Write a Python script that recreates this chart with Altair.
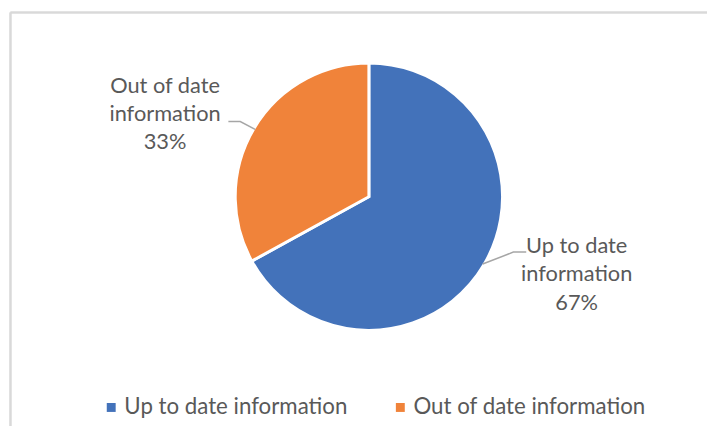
import math
import altair as alt
import pandas as pd

# ---- data ----
categories = ["Up to date information", "Out of date information"]
values = [67, 33]
label_lines = [["Up to date", "information"], ["Out of date", "information"]]

# ---- style / layout ----
colors = ["#4372BA", "#F0833A"]
W, H = 706, 420
CX, CY = 364.5, 188.5
R = 135
R_EDGE = 133.5
FONT = "Lato"
FS = 22
LEGEND_FS = 22.5
TEXT_COLOR = "#595959"
LEADER_COLOR = "#A6A6A6"
FRAME_COLOR = "#D9D9D9"

leader_offsets = {
    "Up to date information": [(31, -12), (44, -12)],
    "Out of date information": [(-15, -8), (-27, -8)],
}
label_offsets = {
    "Up to date information": (95, -11),
    "Out of date information": (-91, -37),
}

total = sum(values)
pie_rows, leader_rows, label_rows = [], [], []
cum = 0
for i, (c, v, lines) in enumerate(zip(categories, values, label_lines)):
    mid = (cum + v / 2) / total * 2 * math.pi
    cum += v
    ex = CX + R_EDGE * math.sin(mid)
    ey = CY - R_EDGE * math.cos(mid)
    pct = f"{round(v / total * 100)}%"
    pie_rows.append({"cat": c, "value": v, "order": i})
    pts = [(ex, ey)] + [(ex + dx, ey + dy) for dx, dy in leader_offsets[c]]
    for k, (px, py) in enumerate(pts):
        leader_rows.append({"cat": c, "k": k, "x": px, "y": py})
    lx, ly = label_offsets[c]
    label_rows.append({"cat": c, "x": ex + lx, "y": ey + ly,
                       "text": "\n".join(lines + [pct])})

pie_df = pd.DataFrame(pie_rows)
leader_df = pd.DataFrame(leader_rows)
label_df = pd.DataFrame(label_rows)

xs = alt.Scale(domain=[0, W], range=[0, W], nice=False, zero=False)
ys = alt.Scale(domain=[0, H], range=[0, H], nice=False, zero=False)

pie = alt.Chart(pie_df).mark_arc(radius=R, stroke="white", strokeWidth=3).encode(
    theta=alt.Theta("value:Q", stack=True),
    color=alt.Color(
        "cat:N",
        sort=categories,
        scale=alt.Scale(domain=categories, range=colors),
        legend=alt.Legend(
            orient="none", legendX=93, legendY=390, direction="horizontal",
            title=None, symbolType="square", symbolSize=81, symbolStrokeWidth=0,
            labelFont=FONT, labelFontSize=LEGEND_FS, labelColor=TEXT_COLOR,
            labelOffset=2, columnPadding=42, labelLimit=600, padding=0,
        ),
    ),
    order=alt.Order("order:Q"),
    x=alt.value(CX),
    y=alt.value(CY),
)

leaders = alt.Chart(leader_df).mark_line(color=LEADER_COLOR, strokeWidth=1.5).encode(
    x=alt.X("x:Q", scale=xs, axis=None),
    y=alt.Y("y:Q", scale=ys, axis=None),
    detail="cat:N",
    order="k:Q",
)

labels = alt.Chart(label_df).mark_text(
    font=FONT, fontSize=FS, color=TEXT_COLOR, lineBreak="\n",
    lineHeight=28.5, align="center", baseline="alphabetic",
).encode(
    x=alt.X("x:Q", scale=xs, axis=None),
    y=alt.Y("y:Q", scale=ys, axis=None),
    text="text:N",
)

frame_top = alt.Chart(pie_df).mark_rule(color=FRAME_COLOR, strokeWidth=2).encode(
    x=alt.value(2.5), x2=alt.value(W), y=alt.value(2.5)
)
frame_left = alt.Chart(pie_df).mark_rule(color=FRAME_COLOR, strokeWidth=2).encode(
    x=alt.value(2.5), y=alt.value(2.5), y2=alt.value(H)
)

chart = alt.layer(frame_top, frame_left, pie, leaders, labels).properties(
    width=W, height=H, padding=0, autosize=alt.AutoSizeParams(type="none"),
    background="white",
).configure_view(stroke=None)

chart.save("out.html", embed_options={"renderer": "svg", "actions": False})
